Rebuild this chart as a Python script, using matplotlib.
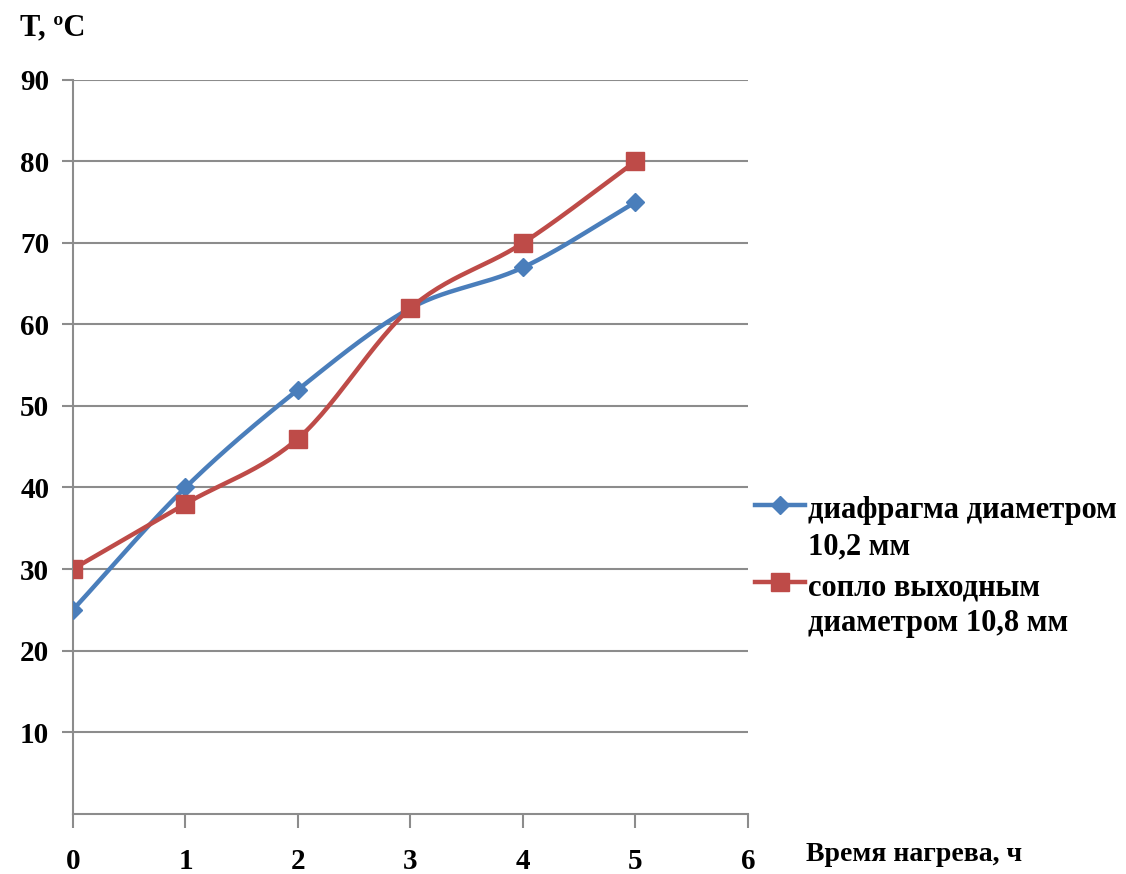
import numpy as np
import matplotlib.pyplot as plt
from matplotlib.lines import Line2D

# Дані з графіка
hours = [0, 1, 2, 3, 4, 5]
temp_diaphragm = [25, 40, 52, 62, 67, 75]
temp_nozzle = [30, 38, 46, 62, 70, 80]
labels = ["диафрагма диаметром\n10,2 мм", "сопло выходным\nдиаметром 10,8 мм"]
y_ticks = [10, 20, 30, 40, 50, 60, 70, 80, 90]
x_ticks = [0, 1, 2, 3, 4, 5, 6]


def smooth(x, y, n=30):
    # згладжування як у Excel (Catmull-Rom)
    x = np.asarray(x, float)
    y = np.asarray(y, float)
    px = np.concatenate([[2 * x[0] - x[1]], x, [2 * x[-1] - x[-2]]])
    py = np.concatenate([[2 * y[0] - y[1]], y, [2 * y[-1] - y[-2]]])
    t = np.linspace(0, 1, n)
    xs, ys = [], []
    for i in range(1, len(px) - 2):
        for p, out in ((px, xs), (py, ys)):
            p0, p1, p2, p3 = p[i - 1], p[i], p[i + 1], p[i + 2]
            out.extend(0.5 * ((2 * p1) + (-p0 + p2) * t
                              + (2 * p0 - 5 * p1 + 4 * p2 - p3) * t ** 2
                              + (-p0 + 3 * p1 - 3 * p2 + p3) * t ** 3))
    return xs, ys


plt.rcParams['font.family'] = ['Liberation Serif', 'DejaVu Serif']
plt.rcParams['font.weight'] = 'bold'

fig = plt.figure(figsize=(11.26, 8.74), dpi=100)
ax = fig.add_axes([0.0648, 0.0692, 0.5995, 0.8393])

blue = '#4A7EBB'
red = '#BE4B48'
styles = [(blue, 'D', 9.5), (red, 's', 13)]

for vals, (col, mk, ms) in zip([temp_diaphragm, temp_nozzle], styles):
    sx, sy = smooth(hours, vals)
    ax.plot(sx, sy, color=col, lw=3.2, zorder=3)
    ax.plot(hours, vals, ls='none', marker=mk, ms=ms, color=col, zorder=4)

# легенда (як в Excel: маркер на рівні першого рядка)
leg_y = [0.4222, 0.3341]
for (col, mk, ms), lab, y in zip(styles, labels, leg_y):
    fig.add_artist(Line2D([0.6705, 0.715], [y, y], transform=fig.transFigure,
                          color=col, lw=3.2))
    fig.add_artist(Line2D([0.6928], [y], transform=fig.transFigure,
                          color=col, marker=mk, ms=ms, ls='none'))
    fig.text(0.7176, y + 0.010, lab, fontsize=22, fontweight='bold',
             va='top', linespacing=1.32)

ax.set_xlim(0, 6)
ax.set_ylim(0, 90)
ax.set_yticks(y_ticks)
ax.set_xticks(x_ticks)
ax.grid(axis='y', color='#8c8c8c', lw=1.5)
ax.set_axisbelow(True)
for s in ('top', 'right'):
    ax.spines[s].set_visible(False)
for s in ('left', 'bottom'):
    ax.spines[s].set_color('#8c8c8c')
    ax.spines[s].set_linewidth(1.5)
ax.tick_params(axis='y', length=8, width=1.5, color='#8c8c8c', labelsize=21, pad=9)
ax.tick_params(axis='x', length=10, width=1.5, color='#8c8c8c', labelsize=21, pad=15)

fig.text(0.018, 0.968, "T, ºC", fontsize=22, fontweight='bold', va='center')
fig.text(0.716, 0.022, "Время нагрева, ч", fontsize=20, fontweight='bold', va='center')

plt.savefig("out.png", dpi=100, facecolor='white')
